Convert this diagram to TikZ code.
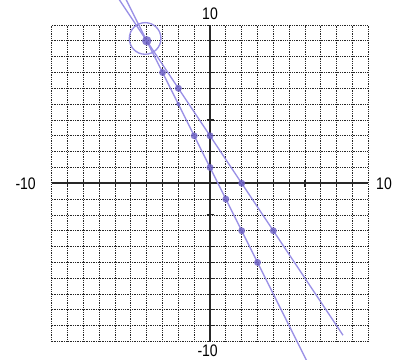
\documentclass[tikz,border=0pt]{standalone}
\usepackage{fontspec}
\setmainfont{Liberation Sans}
\newfontfamily\labelfont[FakeStretch=0.84]{Liberation Sans}
\usetikzlibrary{positioning}
\definecolor{LinePurple}{HTML}{9A90E6}
\definecolor{DotPurple}{HTML}{6A5EC4}

\begin{document}
\begin{tikzpicture}[x=0.5cm, y=0.5cm,
  gridline/.style={black!85, line width=0.75pt, dash pattern=on 0.8pt off 0.8pt},
  axisline/.style={black!85, line width=1.6pt},
  tickline/.style={black!85, line width=1pt},
  graphline/.style={LinePurple, line width=1.2pt},
  graphdot/.style={DotPurple, opacity=0.8},
  axislabel/.style={font=\labelfont\fontsize{15}{15}\selectfont, inner sep=0pt}]
  \useasboundingbox (-13.27,-11.16) rectangle (11.56,11.58);

  % Dotted grid
  \foreach \k in {-10,...,10} {
    \draw[gridline] (\k,-10) -- (\k,10);
    \draw[gridline] (-10,\k) -- (10,\k);
  }

  % Axes and ticks
  \draw[axisline] (-10,0) -- (10,0);
  \draw[axisline] (0,-10) -- (0,10);
  \foreach \k in {-9,...,9} {
    \draw[tickline] (\k,-0.22) -- (\k,0.22);
    \draw[tickline] (-0.22,\k) -- (0.22,\k);
  }

  % Axis labels
  \node[axislabel] (ymax) at (0,10.7) {10};
  \node[axislabel] (ymin) at (-0.15,-10.55) {-10};
  \node[axislabel] (xmin) at (-11.65,0) {-10};
  \node[axislabel, anchor=east] (xmax) at (11.5,0) {10};

  % The two lines y=-2x+1 and y=-1.5x+3
  \begin{scope}
    \clip (-13.27,-11.16) rectangle (11.56,11.58);
    \draw[graphline] (-6,13) -- (6.5,-12);
    \draw[graphline] (-6,12) -- (8.4,-9.6);
  \end{scope}

  % Plotted points
  \foreach \px/\py in {-3/7,-1/3,0/1,1/-1,2/-3,3/-5}
    \fill[graphdot] (\px,\py) circle (0.22);
  \fill[graphdot] (-2,5) circle (0.13);
  \foreach \px/\py in {-2/6,0/3,2/0,4/-3}
    \fill[graphdot] (\px,\py) circle (0.22);

  % Intersection point, circled
  \coordinate (meet) at (-4,9);
  \fill[graphdot] (meet) circle (0.3);
  \draw[graphline] (-4.1,9.15) circle (1.0);
\end{tikzpicture}
\end{document}
